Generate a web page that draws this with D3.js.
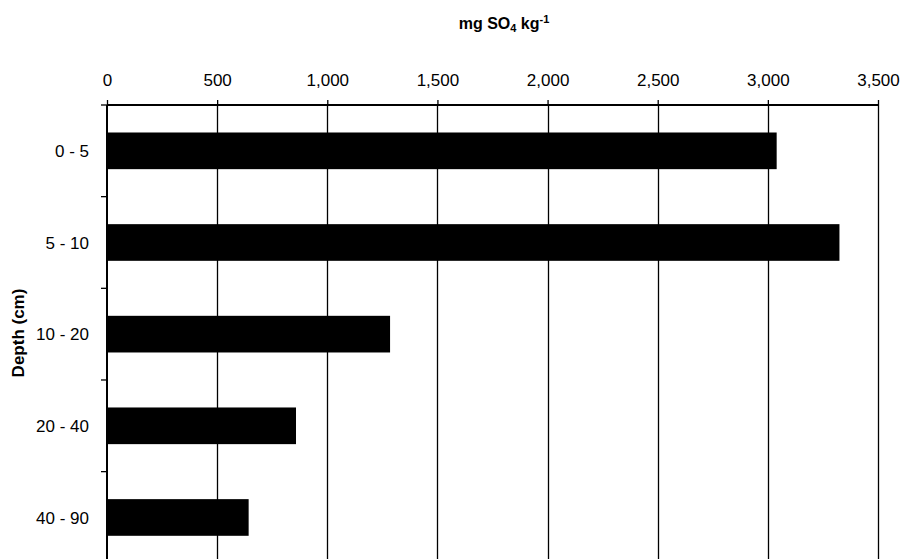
<!DOCTYPE html>
<html>
<head>
<meta charset="utf-8">
<script src="https://cdn.jsdelivr.net/npm/d3@7"></script>
<style>
  html, body { margin: 0; padding: 0; background: #fff; }
  svg { display: block; font-family: Arial, "Liberation Sans", sans-serif; }
</style>
</head>
<body>
<svg id="chart" width="904" height="559"></svg>
<script>
const categories = ["0 - 5", "5 - 10", "10 - 20", "20 - 40", "40 - 90"];
const values = [3040, 3325, 1285, 858, 643];
const xTicks = [0, 500, 1000, 1500, 2000, 2500, 3000, 3500];
const yTitle = "Depth (cm)";

const svg = d3.select("#chart");
const margin = { left: 107, right: 26, top: 105 };
const plotBottom = 563.3;

const x = d3.scaleLinear().domain([0, 3500]).range([margin.left, 904 - margin.right]);
const y = d3.scaleBand().domain(categories).range([margin.top, plotBottom])
  .paddingInner(0.6).paddingOuter(0.3);

// Gridlines
svg.append("g").selectAll("line").data(xTicks.slice(1)).join("line")
  .attr("x1", d => Math.round(x(d)) + 0.5).attr("x2", d => Math.round(x(d)) + 0.5)
  .attr("y1", margin.top).attr("y2", plotBottom)
  .attr("stroke", "#000").attr("stroke-width", 1.3);

// Bars
svg.append("g").selectAll("rect").data(values).join("rect")
  .attr("x", x(0))
  .attr("y", (d, i) => y(categories[i]))
  .attr("width", d => x(d) - x(0))
  .attr("height", y.bandwidth())
  .attr("fill", "#000");

// Top axis
const xAxis = d3.axisTop(x).tickValues(xTicks).tickSize(5).tickPadding(14)
  .tickFormat(d3.format(","));
const gx = svg.append("g").attr("transform", `translate(0,${margin.top})`).call(xAxis);
gx.select(".domain").attr("stroke-width", 2).attr("d", `M${x(0)},0H${x(3500)}`);
gx.selectAll(".tick line").attr("stroke-width", 1.3);
gx.selectAll("text").attr("font-size", 17).attr("fill", "#000")
  .attr("font-family", "Arial, 'Liberation Sans', sans-serif");

// Left axis (ticks between categories)
const boundaries = d3.range(categories.length + 1).map(i => margin.top + i * y.step());
svg.append("line")
  .attr("x1", x(0)).attr("x2", x(0))
  .attr("y1", margin.top).attr("y2", plotBottom)
  .attr("stroke", "#000").attr("stroke-width", 2);
svg.append("g").selectAll("line").data(boundaries).join("line")
  .attr("x1", x(0) - 6).attr("x2", x(0))
  .attr("y1", d => d).attr("y2", d => d)
  .attr("stroke", "#000").attr("stroke-width", 1.3);
svg.append("g").selectAll("text").data(categories).join("text")
  .attr("x", 89)
  .attr("y", d => y(d) + y.bandwidth() / 2)
  .attr("dy", "0.36em")
  .attr("text-anchor", "end")
  .attr("font-size", 17)
  .attr("fill", "#000")
  .text(d => d);

// X title with subscript and superscript
const t = svg.append("text")
  .attr("x", 504).attr("y", 29)
  .attr("text-anchor", "middle")
  .attr("font-size", 16).attr("font-weight", "bold").attr("fill", "#000");
t.append("tspan").text("mg SO");
t.append("tspan").attr("font-size", 11).attr("dy", 3).text("4");
t.append("tspan").attr("dy", -3).text(" kg");
t.append("tspan").attr("font-size", 11).attr("dy", -6).text("-1");

// Y title
svg.append("text")
  .attr("transform", "translate(24,333) rotate(-90)")
  .attr("text-anchor", "middle")
  .attr("font-size", 17).attr("font-weight", "bold").attr("fill", "#000")
  .text(yTitle);
</script>
</body>
</html>
